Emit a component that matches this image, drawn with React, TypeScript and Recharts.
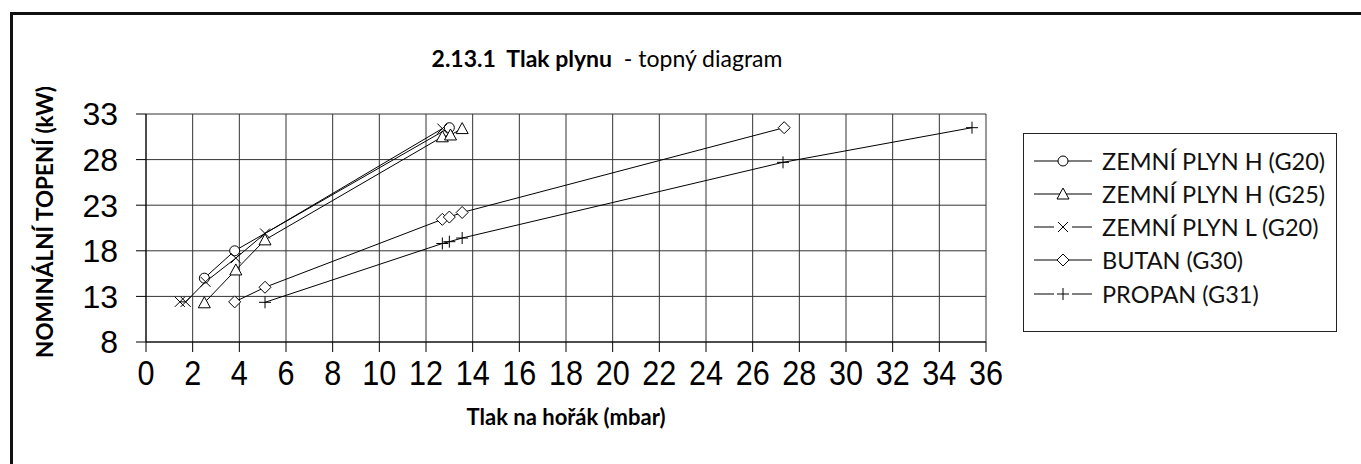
import React from "react"
import { LineChart, Line, XAxis, YAxis, CartesianGrid } from "recharts"

// tlak na hořák (mbar) a nominální topení (kW) pro jednotlivé plyny
const g20hTlak = [2.5, 3.8, 13.0]
const g20hVykon = [15.0, 18.0, 31.5]

const g25Tlak = [2.5, 3.85, 5.1, 12.7, 13.05, 13.55]
const g25Vykon = [12.3, 15.9, 19.2, 30.5, 30.7, 31.4]

const g20lTlak = [1.45, 1.7, 2.55, 3.85, 5.1, 12.7]
const g20lVykon = [12.4, 12.4, 14.6, 17.2, 19.9, 31.4]

const butanTlak = [3.8, 5.1, 12.7, 13.0, 13.55, 27.35]
const butanVykon = [12.4, 14.0, 21.45, 21.7, 22.2, 31.5]

const propanTlak = [5.1, 12.7, 13.0, 13.55, 27.3, 35.4]
const propanVykon = [12.35, 18.8, 19.0, 19.4, 27.7, 31.5]

const xTicks = [0, 2, 4, 6, 8, 10, 12, 14, 16, 18, 20, 22, 24, 26, 28, 30, 32, 34, 36]
const yTicks = [8, 13, 18, 23, 28, 33]

type Kind = "circle" | "triangle" | "cross" | "diamond" | "plus"

const toPoints = (tlak: number[], vykon: number[]) => tlak.map((x, i) => ({ x, y: vykon[i] }))

const series: { name: string; kind: Kind; data: { x: number; y: number }[] }[] = [
  { name: "ZEMNÍ PLYN H (G20)", kind: "circle", data: toPoints(g20hTlak, g20hVykon) },
  { name: "ZEMNÍ PLYN H (G25)", kind: "triangle", data: toPoints(g25Tlak, g25Vykon) },
  { name: "ZEMNÍ PLYN L (G20)", kind: "cross", data: toPoints(g20lTlak, g20lVykon) },
  { name: "BUTAN (G30)", kind: "diamond", data: toPoints(butanTlak, butanVykon) },
  { name: "PROPAN (G31)", kind: "plus", data: toPoints(propanTlak, propanVykon) },
]

function Marker({ kind, cx, cy }: { kind: Kind; cx: number; cy: number }) {
  const s = { stroke: "#000", strokeWidth: 1, fill: "#fff" }
  switch (kind) {
    case "circle":
      return <circle cx={cx} cy={cy} r={5} {...s} />
    case "triangle":
      return <polygon points={`${cx},${cy - 6} ${cx - 6},${cy + 5} ${cx + 6},${cy + 5}`} {...s} />
    case "diamond":
      return <polygon points={`${cx},${cy - 6} ${cx + 6},${cy} ${cx},${cy + 6} ${cx - 6},${cy}`} {...s} />
    case "cross":
      return (
        <g stroke="#000" strokeWidth={1}>
          <line x1={cx - 5} y1={cy - 5} x2={cx + 5} y2={cy + 5} />
          <line x1={cx - 5} y1={cy + 5} x2={cx + 5} y2={cy - 5} />
        </g>
      )
    default:
      return (
        <g stroke="#000" strokeWidth={1}>
          <line x1={cx - 6} y1={cy} x2={cx + 6} y2={cy} />
          <line x1={cx} y1={cy - 6} x2={cx} y2={cy + 6} />
        </g>
      )
  }
}

const dotFor = (kind: Kind) => (props: any) => (
  <Marker key={`${kind}-${props.index}`} kind={kind} cx={props.cx} cy={props.cy} />
)

// úzké popisky osy x
const XTick = ({ x, y, payload }: any) => (
  <text
    transform={`translate(${x},${y}) scale(0.85,1)`}
    textAnchor="middle"
    dy="0.71em"
    fontSize={36}
    fontFamily="Liberation Sans"
    fill="#000"
  >
    {payload.value}
  </text>
)

function LegendBox() {
  return (
    <div
      style={{
        position: "absolute",
        left: 1023,
        top: 133,
        width: 312,
        height: 197,
        border: "1px solid #222",
        background: "#fff",
      }}
    >
      {series.map((s, i) => {
        const gap = s.kind === "cross" || s.kind === "plus" ? 9 : 0
        return (
          <div
            key={s.name}
            style={{ position: "absolute", left: 8, top: 10 + i * 33.3, height: 33, display: "flex", alignItems: "center" }}
          >
            <svg width={62} height={20}>
              <line x1={2} y1={10} x2={31 - gap} y2={10} stroke="#000" />
              <line x1={31 + gap} y1={10} x2={60} y2={10} stroke="#000" />
              <Marker kind={s.kind} cx={31} cy={10} />
            </svg>
            <span style={{ fontFamily: "Lato", fontSize: 23.5, color: "#111", marginLeft: 8, whiteSpace: "nowrap" }}>
              {s.name}
            </span>
          </div>
        )
      })}
    </div>
  )
}

export default function App() {
  return (
    <div style={{ position: "absolute", left: 0, top: 0, width: 1361, height: 464, background: "#fff", overflow: "hidden" }}>
      <div
        style={{
          position: "absolute",
          left: 10,
          top: 12,
          width: 1400,
          height: 500,
          borderLeft: "3px solid #111",
          borderTop: "3px solid #111",
        }}
      />
      <div
        style={{
          position: "absolute",
          left: 607,
          top: 58,
          transform: "translate(-50%, -50%)",
          whiteSpace: "nowrap",
          fontFamily: "Lato",
          fontSize: 23,
          color: "#000",
        }}
      >
        <b>2.13.1&nbsp;&nbsp;Tlak plynu</b>&nbsp; - topný diagram
      </div>
      <div
        style={{
          position: "absolute",
          left: 44,
          top: 222,
          transform: "translate(-50%, -50%) rotate(-90deg)",
          whiteSpace: "nowrap",
          fontFamily: "Lato",
          fontWeight: 700,
          fontSize: 22.5,
          color: "#000",
        }}
      >
        NOMINÁLNÍ TOPENÍ (kW)
      </div>
      <div
        style={{
          position: "absolute",
          left: 566,
          top: 416,
          transform: "translate(-50%, -50%)",
          whiteSpace: "nowrap",
          fontFamily: "Lato",
          fontWeight: 700,
          fontSize: 22,
          color: "#000",
        }}
      >
        Tlak na hořák (mbar)
      </div>
      <LineChart
        width={1361}
        height={464}
        margin={{ top: 114, right: 375, bottom: 62, left: 0 }}
        style={{ position: "absolute", left: 0, top: 0 }}
      >
        <CartesianGrid stroke="#333" strokeWidth={1} />
        <XAxis
          type="number"
          dataKey="x"
          domain={[0, 36]}
          ticks={xTicks}
          interval={0}
          allowDataOverflow
          height={60}
          stroke="#000"
          tickSize={10}
          tickMargin={7}
          tick={<XTick />}
        />
        <YAxis
          type="number"
          dataKey="y"
          domain={[8, 33]}
          ticks={yTicks}
          interval={0}
          allowDataOverflow
          width={146}
          stroke="#000"
          tickSize={10}
          tickMargin={18}
          tick={{ fill: "#000", fontSize: 32, fontFamily: "Liberation Sans" }}
        />
        {series.map((s) => (
          <Line
            key={s.name}
            data={s.data}
            dataKey="y"
            name={s.name}
            stroke="#000"
            strokeWidth={1}
            dot={dotFor(s.kind)}
            activeDot={false}
            isAnimationActive={false}
          />
        ))}
      </LineChart>
      <LegendBox />
    </div>
  )
}
